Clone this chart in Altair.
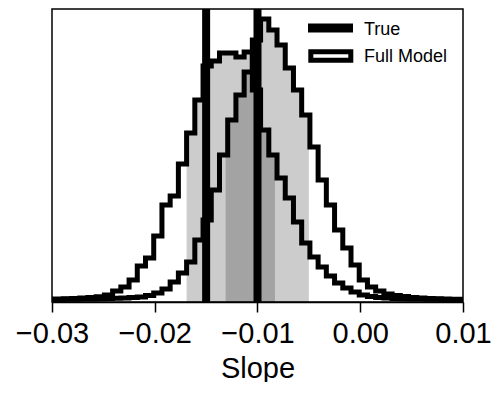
import numpy as np
import pandas as pd
import altair as alt

# ---- data ----
bin_width = 0.0008
first_edge = -0.0169 - 17 * 0.0008
# posterior histogram heights (arbitrary units), 51 bins
model_a = [3, 3, 3.2, 3.5, 4, 4.5, 5.3, 7, 11, 15, 22, 36, 44, 66, 97, 106, 138,
           169, 202, 236, 241, 249, 249, 245, 250, 212, 172, 147, 124, 104, 80, 59,
           45, 35, 26, 19, 14, 10, 7, 5.5, 4.5, 4, 3.5, 3.2, 3, 3, 2.8, 2.7, 2.6, 2.5, 2.5]
model_b = [2.5, 2.5, 2.7, 2.8, 3, 3, 3.2, 3.4, 3.7, 4, 4.5, 5, 6.5, 9, 13, 20, 29,
           40, 62, 82, 112, 147, 182, 207, 230, 262, 283, 272, 257, 234, 212, 187,
           155, 122, 97, 72, 54, 37, 22, 15, 11, 8, 6.5, 5.5, 4.5, 4, 3.5, 3.2, 3, 2.8, 2.7]
interval_a = [-0.0169, -0.0083]
interval_b = [-0.0131, -0.0050]
true_values = [-0.015, -0.010]
x_ticks = [-0.03, -0.02, -0.01, 0.00, 0.01]
legend_labels = ["True", "Full Model"]

n = len(model_a)
edges = first_edge + bin_width * np.arange(n + 1)


def outline(counts, name):
    xs = list(edges)
    ys = list(counts) + [counts[-1]]
    return pd.DataFrame({"x": xs, "y": ys, "s": name})


def fill(counts, lo, hi, name):
    def idx(v):
        return int(np.clip(np.searchsorted(edges, v, side="right") - 1, 0, n - 1))
    xs = [lo]
    ys = [counts[idx(lo)]]
    for i in range(n):
        e = edges[i]
        if lo < e < hi:
            xs.append(e)
            ys.append(counts[i])
    xs.append(hi)
    ys.append(counts[idx(hi)])
    return pd.DataFrame({"x": xs, "y": ys, "s": name})


lines_df = pd.concat([outline(model_a, "A"), outline(model_b, "B")])
fill_a = fill(model_a, interval_a[0], interval_a[1], "A")
fill_b = fill(model_b, interval_b[0], interval_b[1], "B")

FONT = "Liberation Sans"
xscale = alt.Scale(domain=[-0.03, 0.01], nice=False, zero=False)
yscale = alt.Scale(domain=[0, 293], nice=False, zero=True)

xaxis = alt.Axis(values=x_ticks, format=".2f", tickSize=10, tickWidth=1.5,
                 tickColor="black", domainColor="black", domainWidth=1.5,
                 labelFontSize=29, labelFont=FONT, labelColor="black",
                 labelPadding=7, labelFlush=False, grid=False,
                 title="Slope", titleFontSize=29, titleFont=FONT,
                 titleFontWeight="normal", titleColor="black", titlePadding=6)

fa = alt.Chart(fill_a).mark_area(interpolate="step-after", color="black",
                                 opacity=0.2, clip=True).encode(
    x=alt.X("x:Q", scale=xscale, axis=xaxis), y=alt.Y("y:Q", scale=yscale, axis=None))
fb = alt.Chart(fill_b).mark_area(interpolate="step-after", color="black",
                                 opacity=0.2, clip=True).encode(
    x=alt.X("x:Q", scale=xscale), y=alt.Y("y:Q", scale=yscale))

hist = alt.Chart(lines_df).mark_line(interpolate="step-after", color="black",
                                     strokeWidth=5, clip=True).encode(
    x=alt.X("x:Q", scale=xscale), y=alt.Y("y:Q", scale=yscale), detail="s:N")

truth = alt.Chart(pd.DataFrame({"x": true_values})).mark_rule(
    color="black", strokeWidth=8).encode(x=alt.X("x:Q", scale=xscale))

# legend
leg_line = alt.Chart(pd.DataFrame({"l": [legend_labels[0]]})).mark_rule(
    color="black", strokeWidth=9).encode(
    x=alt.value(256), x2=alt.value(301), y=alt.value(19))
leg_box = alt.Chart(pd.DataFrame({"l": [legend_labels[1]]})).mark_rect(
    fill="white", stroke="black", strokeWidth=5).encode(
    x=alt.value(258.8), x2=alt.value(298.8), y=alt.value(42.8), y2=alt.value(51.2))
leg_t1 = alt.Chart(pd.DataFrame({"l": [legend_labels[0]]})).mark_text(
    align="left", baseline="alphabetic", fontSize=18, font=FONT, color="black").encode(
    x=alt.value(312), y=alt.value(26), text="l:N")
leg_t2 = alt.Chart(pd.DataFrame({"l": [legend_labels[1]]})).mark_text(
    align="left", baseline="alphabetic", fontSize=18, font=FONT, color="black").encode(
    x=alt.value(312), y=alt.value(52.7), text="l:N")

chart = alt.layer(fa, fb, hist, truth, leg_line, leg_box, leg_t1, leg_t2).properties(
    width=411, height=293,
    autosize=alt.AutoSizeParams(type="none"),
    padding={"left": 44, "top": 1, "right": 29, "bottom": 80},
).configure_view(stroke="black", strokeWidth=1.5)

chart.save("out.html", embed_options={"renderer": "svg", "actions": False})
